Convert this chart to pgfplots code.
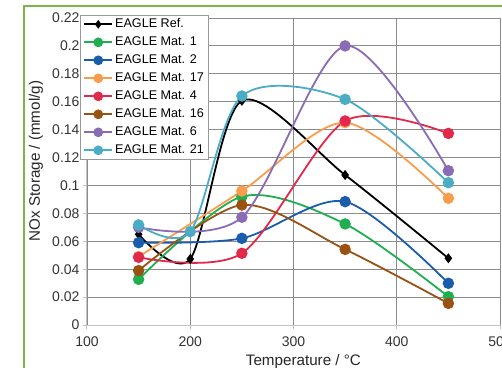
\documentclass[border=0pt]{standalone}
\usepackage{pgfplots}
\pgfplotsset{compat=1.18}
\usepackage{fontspec}
\setmainfont{Liberation Sans}
\definecolor{cgreen}{HTML}{1FAF50}
\definecolor{cblue}{HTML}{1A5DAD}
\definecolor{corange}{HTML}{F89C4E}
\definecolor{cred}{HTML}{E0294B}
\definecolor{cbrown}{HTML}{9A5212}
\definecolor{cpurple}{HTML}{8A6BB5}
\definecolor{ccyan}{HTML}{4BACC6}
\definecolor{frame}{HTML}{7AB648}
\definecolor{gridc}{HTML}{8C8C8C}
\definecolor{axc}{HTML}{C4C4C4}
\newcommand\legfont{\fontsize{12.6}{14}\selectfont}
\begin{document}
\begin{tikzpicture}[x=1pt,y=1pt]
\draw[frame, line width=2pt] (-63,319) rectangle (700,-200);
\begin{axis}[
  at={(0,0)}, anchor=south west,
  scale only axis, width=413pt, height=307pt,
  xmin=100, xmax=500, ymin=0, ymax=0.22,
  xtick={100,200,300,400,500},
  ytick={0,0.02,0.04,0.06,0.08,0.1,0.12,0.14,0.16,0.18,0.2,0.22},
  axis x line*=bottom, axis y line*=left,
  axis line style={axc, line width=1pt},
  grid=major,
  major grid style={gridc, line width=0.9pt},
  tick style={axc, line width=1pt},
  tick align=outside, major tick length=4pt,
  /pgf/number format/assume math mode=true,
  yticklabel style={/pgf/number format/fixed, /pgf/number format/precision=2, font=\fontsize{14}{16}\selectfont, text=black!80},
  xticklabel style={font=\fontsize{14}{16}\selectfont, text=black!80, yshift=-4pt},
  scaled y ticks=false,
  xlabel={Temperature / °C},
  ylabel={NOx Storage / (mmol/g)},
  xlabel style={at={(axis description cs:0.524,-0.12)}, anchor=center, font=\fontsize{15.2}{17}\selectfont, text=black!85},
  ylabel style={at={(axis description cs:-0.1235,0.534)}, anchor=center, rotate=0, font=\fontsize{15.2}{17}\selectfont, text=black!85},
  every axis plot/.append style={line width=1.8pt, smooth},
  legend cell align=left,
  legend style={at={(axis description cs:-0.017,1.01)}, anchor=north west,
    draw=black!40, line width=0.8pt, fill=white,
    nodes={inner ysep=0pt, inner xsep=2pt, text height=9pt, text depth=3pt},
    row sep=6pt, inner sep=3pt},
  legend image code/.code={\draw[mark repeat=2,mark phase=2,mark options={scale=0.82}] plot coordinates {(0pt,0pt) (14pt,0pt) (28pt,0pt)};},
]
\addplot[black, mark=diamond*, mark size=3.6pt] coordinates {(150,0.065) (200,0.0473) (250,0.1607) (350,0.1075) (450,0.0478)};
\addlegendentry{\legfont EAGLE Ref.}
\addplot[cgreen, mark=*, mark size=4.8pt] coordinates {(150,0.0327) (250,0.092) (350,0.0724) (450,0.0203)};
\addlegendentry{\legfont EAGLE Mat. 1}
\addplot[cblue, mark=*, mark size=4.8pt] coordinates {(150,0.059) (250,0.0621) (350,0.0884) (450,0.0299)};
\addlegendentry{\legfont EAGLE Mat. 2}
\addplot[corange, mark=*, mark size=4.8pt] coordinates {(150,0.049) (250,0.096) (350,0.145) (450,0.0908)};
\addlegendentry{\legfont EAGLE Mat. 17}
\addplot[cred, mark=*, mark size=4.8pt] coordinates {(150,0.0485) (250,0.0514) (350,0.1462) (450,0.1373)};
\addlegendentry{\legfont EAGLE Mat. 4}
\addplot[cbrown, mark=*, mark size=4.8pt] coordinates {(150,0.039) (250,0.086) (350,0.0542) (450,0.0155)};
\addlegendentry{\legfont EAGLE Mat. 16}
\addplot[cpurple, mark=*, mark size=4.8pt] coordinates {(150,0.070) (250,0.0772) (350,0.200) (450,0.1106)};
\addlegendentry{\legfont EAGLE Mat. 6}
\addplot[ccyan, mark=*, mark size=4.8pt] coordinates {(150,0.0717) (200,0.0669) (250,0.1641) (350,0.1617) (450,0.102)};
\addlegendentry{\legfont EAGLE Mat. 21}
\end{axis}
\pgfresetboundingbox
\path[use as bounding box] (-87,-42) rectangle (415,325);
\end{tikzpicture}
\end{document}
